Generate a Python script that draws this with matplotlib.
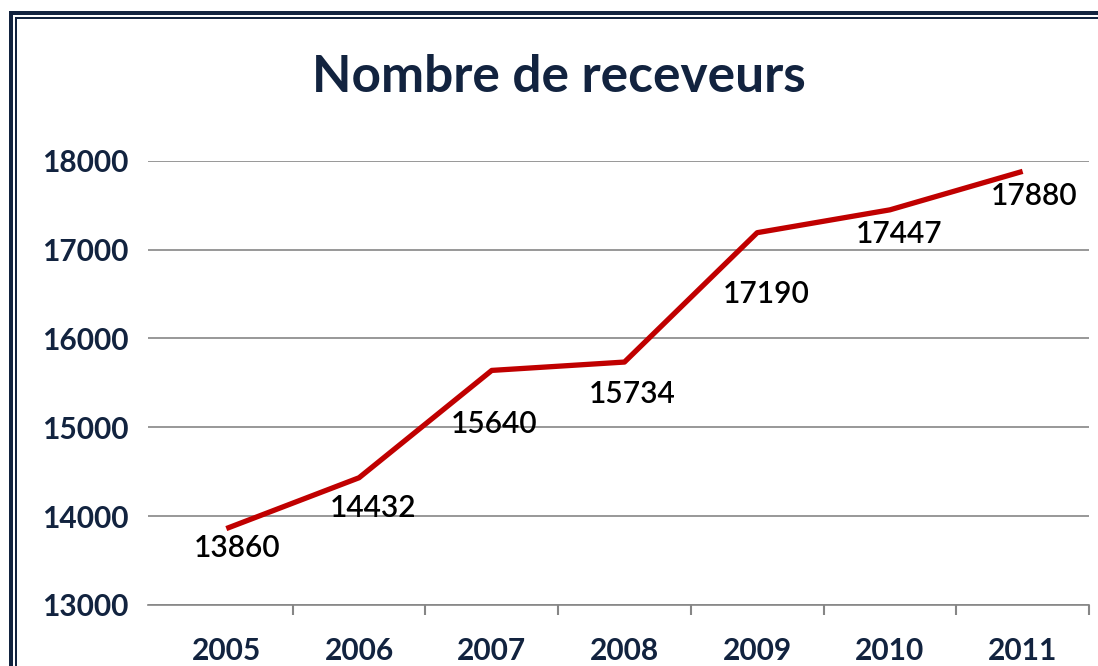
import matplotlib
matplotlib.use('Agg')
from matplotlib import pyplot as plt
from matplotlib.patches import Rectangle

years = ['2005', '2006', '2007', '2008', '2009', '2010', '2011']
receveurs = [13860, 14432, 15640, 15734, 17190, 17447, 17880]
# label offsets below each point, in pixels (dx, dy to baseline)
label_offsets = [(11, -28), (14, -39), (2, -63), (8, -41), (9, -70), (9, -33), (11, -34)]

navy = '#12233f'
grid_gray = '#868686'
red = '#c00000'
plt.rcParams['font.family'] = ['Lato', 'DejaVu Sans']

W, H = 1098, 666
fig = plt.figure(figsize=(W / 100, H / 100), dpi=100)
fig.patch.set_facecolor('white')

ax = fig.add_axes([148 / W, 1 - 605 / H, (1089 - 148) / W, (605 - 160.7) / H])
x = list(range(len(years)))
ax.plot(x, receveurs, color=red, lw=3.8, solid_capstyle='butt', clip_on=False, zorder=3)

for i, v in enumerate(receveurs):
    dx, dy = label_offsets[i]
    ax.annotate(str(v), (x[i], v), xytext=(dx, dy), textcoords='offset pixels',
                ha='center', va='baseline', fontsize=21.5, fontweight='semibold',
                color='black', zorder=4)

ax.set_xlim(-0.59, 6.5)
ax.set_ylim(13000, 18000)
ax.set_yticks([13000, 14000, 15000, 16000, 17000, 18000])
ax.yaxis.grid(True, color=grid_gray, lw=1.2)
ax.set_axisbelow(True)
for s in ['top', 'right', 'left']:
    ax.spines[s].set_visible(False)
ax.spines['bottom'].set_color(grid_gray)
ax.spines['bottom'].set_linewidth(1.2)

ax.set_xticks([i + 0.5 for i in range(len(years))])
ax.set_xticklabels([])
ax.set_xticks(x, minor=True)
ax.set_xticklabels(years, minor=True)
ax.tick_params(axis='x', which='major', direction='out', length=7, width=1.5, color=grid_gray)
ax.tick_params(axis='x', which='minor', length=0, pad=23, labelsize=21.5, labelcolor=navy)
ax.tick_params(axis='y', length=0, pad=14, labelsize=21.5, labelcolor=navy)
for lab in ax.get_yticklabels() + ax.get_xticklabels(minor=True):
    lab.set_fontweight('bold')

fig.text(559 / W, 1 - 92 / H, 'Nombre de receveurs', ha='center', va='baseline',
         fontsize=37, fontweight='bold', color=navy)

# double border frame (cropped at right and bottom)
def frame(x0, y0, w, h):
    fig.add_artist(Rectangle((x0 / W, 1 - (y0 + h) / H), w / W, h / H,
                             transform=fig.transFigure, color=navy, lw=0))

frame(9, 11.3, W, 3.7)
frame(15, 16.7, W, 2.3)
frame(9, 11.3, 3.7, H)
frame(15, 16.7, 1.8, H)

fig.savefig('out.png', dpi=100)
